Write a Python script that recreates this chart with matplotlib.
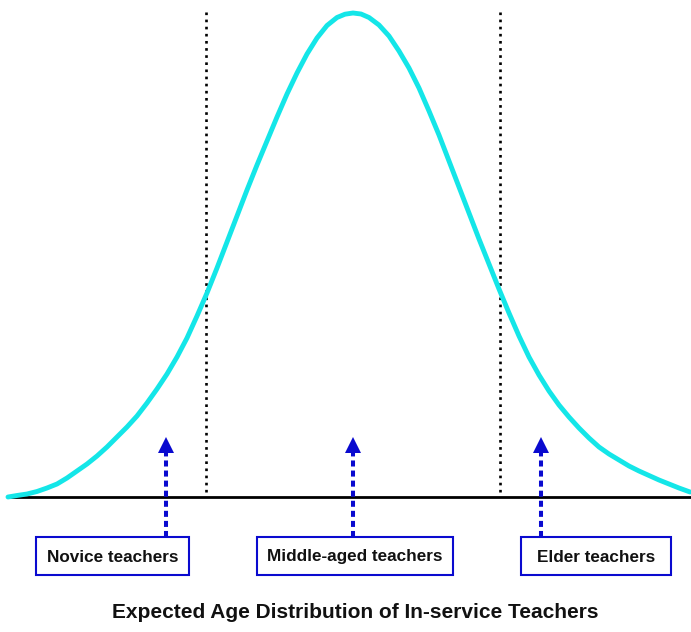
import matplotlib
matplotlib.use("Agg")
import matplotlib.pyplot as plt
from matplotlib.patches import Rectangle

# bell curve (x: position along the axis, y: height above the baseline)
curve_x = [0, 9, 19, 29, 39, 49, 59, 69, 79, 89, 99, 109, 119, 129, 139, 149, 159,
           169, 179, 189, 199, 209, 219, 229, 239, 249, 259, 269, 279, 289, 299, 309,
           319, 329, 337, 345, 353, 361, 371, 381, 391, 401, 411, 421, 431, 441, 451,
           461, 471, 481, 491, 501, 511, 521, 531, 541, 551, 561, 571, 581, 591, 601,
           611, 621, 631, 641, 651, 661, 671, 682]
curve_y = [0, 1.5, 3, 5.5, 9, 13, 19, 26, 33, 41, 50, 60, 70, 81, 94, 108, 123,
           140, 159, 181, 204, 229, 255, 281, 307, 332, 356, 380, 403, 424, 443, 459,
           471.5, 479.5, 482.8, 484, 483, 479.5, 472, 461, 446, 429, 409, 386, 362, 336,
           310, 284, 258, 233, 208, 184, 161, 140, 122, 106, 92, 80, 69, 59, 50, 43,
           37, 31, 26, 21.5, 17, 13, 9, 5]

group_bounds = [198, 492]
groups = ["Novice teachers", "Middle-aged teachers", "Elder teachers"]
group_arrow_x = [158, 345, 533]
title = "Expected Age Distribution of In-service Teachers"

# layout (same units as the data)
BOX_LEFT = [28, 249, 513]
BOX_RIGHT = [181, 445, 663]
BOX_TOP = -40
BOX_BOTTOM = -78
ARROW_TIP = 60
HEAD_BASE = 44

CYAN = "#14E6E8"
BLUE = "#0A0ACF"
FONT = ["Liberation Sans", "DejaVu Sans"]

fig = plt.figure(figsize=(6.91, 6.32), dpi=100)
ax = fig.add_axes([0, 0, 1, 1])
ax.set_xlim(-8, 683)
ax.set_ylim(-135, 497)
ax.axis("off")

# baseline
ax.plot([0, 683], [0, 0], color="black", lw=2.0, zorder=2)

# group dividers
for xb in group_bounds:
    ax.plot([xb, xb], [5, 489], color="black", lw=1.9,
            linestyle=(0, (1.0, 1.7)), zorder=1)

ax.plot(curve_x, curve_y, color=CYAN, lw=3.5, solid_joinstyle="round",
        solid_capstyle="round", zorder=3)

for name, xa, x0, x1 in zip(groups, group_arrow_x, BOX_LEFT, BOX_RIGHT):
    ax.plot([xa, xa], [BOX_TOP, HEAD_BASE], color=BLUE, lw=2.9,
            linestyle=(0, (1.5, 1.0)), zorder=4)
    ax.plot([xa], [(ARROW_TIP + HEAD_BASE) / 2], marker="^", ms=11,
            color=BLUE, mec=BLUE, mew=0, zorder=5)
    ax.add_patch(Rectangle((x0, BOX_BOTTOM), x1 - x0, BOX_TOP - BOX_BOTTOM,
                           facecolor="white", edgecolor=BLUE, lw=1.5, zorder=6))
    ax.text((x0 + x1) / 2, (BOX_TOP + BOX_BOTTOM) / 2 - 1, name, ha="center",
            va="center", fontsize=12.3, fontweight="bold", family=FONT,
            color="#111111", zorder=7)

fig.text(0.514, 0.031, title, ha="center", va="center", fontsize=15,
         fontweight="bold", family=FONT, color="#111111")

fig.savefig("out.png", dpi=100, facecolor="white")
